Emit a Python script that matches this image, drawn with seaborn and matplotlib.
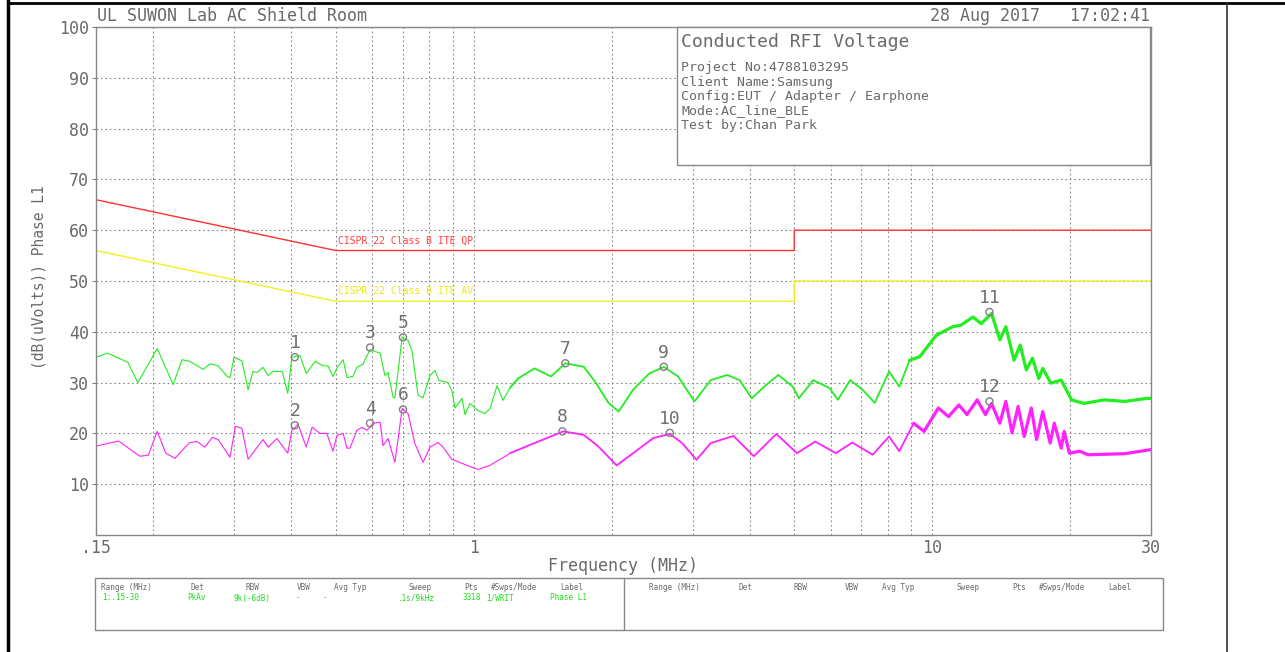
import numpy as np
import pandas as pd
import matplotlib
matplotlib.use("Agg")
import matplotlib.pyplot as plt
from matplotlib.lines import Line2D
from matplotlib.patches import Rectangle
from matplotlib.ticker import FixedLocator, NullFormatter
import seaborn as sns

# ---------------- data ----------------
qp_freq = [0.150, 0.159, 0.176, 0.185, 0.204, 0.221, 0.231, 0.240, 0.257, 0.266, 0.277, 0.290,
           0.294, 0.300, 0.312, 0.322, 0.330, 0.337, 0.347, 0.356, 0.365, 0.382, 0.393, 0.401,
           0.418, 0.431, 0.451, 0.469, 0.481, 0.493, 0.506, 0.519, 0.529, 0.545, 0.556, 0.573,
           0.594, 0.615, 0.625, 0.640, 0.650, 0.667, 0.673, 0.698, 0.719, 0.733, 0.756, 0.775,
           0.803, 0.823, 0.840, 0.879, 0.896, 0.910, 0.943, 0.957, 0.981, 1.021, 1.058, 1.085,
           1.124, 1.158, 1.200, 1.249,
           1.357, 1.474, 1.584, 1.738, 1.848, 1.967, 2.070, 2.226, 2.415, 2.597, 2.790, 3.029,
           3.289, 3.571, 3.798, 4.041, 4.296, 4.617, 4.963, 5.118, 5.500, 5.975, 6.226, 6.622,
           7.044, 7.492, 8.052, 8.474, 8.925, 9.393, 10.20, 11.08, 11.54, 12.27, 12.79, 13.47,
           14.04, 14.47, 15.08, 15.55, 16.04, 16.54, 17.07, 17.42, 18.15, 19.11, 20.13, 21.41,
           23.73, 26.30, 29.44, 30.0]
qp_level = [35.0, 35.8, 34.0, 30.0, 36.7, 29.6, 34.5, 34.2, 32.6, 33.7, 33.3, 31.2,
            31.0, 35.0, 34.3, 28.6, 32.2, 32.0, 33.0, 31.4, 32.2, 32.2, 27.9, 35.0,
            35.3, 31.8, 34.2, 33.3, 33.3, 31.2, 33.3, 34.5, 31.0, 31.2, 33.0, 33.6,
            36.5, 36.0, 35.8, 31.4, 32.0, 27.1, 27.0, 39.0, 38.3, 36.3, 27.5, 27.0,
            31.4, 32.4, 30.4, 30.0, 28.4, 25.0, 26.9, 23.7, 25.9, 24.5, 23.9, 24.9,
            29.4, 26.5, 29.0, 30.8,
            32.8, 31.2, 33.8, 33.1, 29.9, 26.0, 24.3, 28.6, 31.8, 33.1, 31.2, 26.3,
            30.5, 31.5, 30.5, 26.9, 29.2, 31.5, 29.2, 26.9, 30.5, 28.9, 26.6, 30.5,
            28.6, 26.0, 32.2, 29.2, 34.4, 35.1, 39.3, 41.0, 41.3, 42.9, 41.6, 43.6,
            38.4, 41.0, 34.4, 37.4, 32.5, 34.8, 30.8, 32.8, 29.9, 30.5, 26.6, 25.9,
            26.6, 26.3, 26.9, 26.9]

av_freq = [0.150, 0.168, 0.187, 0.195, 0.204, 0.213, 0.223, 0.240, 0.249, 0.259, 0.269, 0.277,
           0.294, 0.302, 0.312, 0.322, 0.347, 0.356, 0.372, 0.393, 0.401, 0.414, 0.431, 0.444,
           0.462, 0.478, 0.493, 0.503, 0.519, 0.529, 0.537, 0.556, 0.570, 0.585, 0.603, 0.625,
           0.634, 0.650, 0.673, 0.698, 0.719, 0.744, 0.775, 0.803, 0.836, 0.857, 0.896, 0.967,
           1.021, 1.085, 1.182,
           1.200, 1.357, 1.474, 1.568, 1.738, 1.866, 2.049, 2.226, 2.465, 2.677, 2.847, 3.060,
           3.289, 3.684, 4.083, 4.571, 5.068, 5.557, 6.162, 6.692, 7.415, 8.052, 8.474, 9.111,
           9.597, 10.31, 10.85, 11.43, 11.91, 12.53, 13.06, 13.47, 14.04, 14.47, 14.93, 15.39,
           15.87, 16.44, 16.89, 17.42, 18.08, 18.46, 19.11, 19.40, 19.91, 20.97, 21.85, 26.30,
           29.44, 30.0]
av_level = [17.5, 18.5, 15.5, 15.7, 20.4, 16.1, 15.1, 18.2, 18.4, 17.3, 19.2, 18.8,
            15.3, 21.4, 21.0, 14.9, 18.8, 17.3, 19.0, 16.1, 20.6, 21.8, 17.3, 21.2,
            20.0, 20.0, 16.5, 19.6, 20.0, 17.1, 17.1, 20.6, 21.2, 20.6, 22.0, 22.2,
            17.6, 19.0, 14.3, 24.9, 23.9, 18.0, 14.3, 17.3, 18.2, 17.3, 14.9, 13.7,
            12.9, 13.7, 15.7,
            16.1, 18.1, 19.4, 20.4, 19.7, 17.5, 13.7, 16.1, 19.1, 19.9, 18.1, 14.8,
            18.1, 19.5, 15.5, 19.9, 16.1, 18.4, 16.1, 18.2, 15.8, 19.4, 16.5, 22.0,
            20.4, 25.0, 23.3, 25.6, 23.7, 26.6, 23.7, 25.9, 22.0, 26.3, 20.1, 25.3,
            19.4, 25.0, 18.8, 24.3, 18.1, 22.0, 17.1, 20.4, 16.1, 16.5, 15.8, 16.0,
            16.7, 16.8]

qp_limit_freq = [0.15, 0.5, 5.0, 5.0, 30.0]
qp_limit_level = [66, 56, 56, 60, 60]
av_limit_freq = [0.15, 0.5, 5.0, 5.0, 30.0]
av_limit_level = [56, 46, 46, 50, 50]

marker_ids = ["1", "2", "3", "4", "5", "6", "7", "8", "9", "10", "11", "12"]
marker_freq = [0.407, 0.407, 0.594, 0.594, 0.701, 0.701, 1.584, 1.561, 2.597, 2.677, 13.33, 13.33]
marker_level = [35.0, 21.6, 36.9, 22.0, 38.9, 24.7, 33.8, 20.4, 33.1, 20.1, 43.9, 26.3]

y_ticks = [10, 20, 30, 40, 50, 60, 70, 80, 90, 100]
x_ticks = [0.15, 1, 10, 30]
x_tick_labels = [".15", "1", "10", "30"]
x_minor = [0.2, 0.3, 0.4, 0.5, 0.6, 0.7, 0.8, 0.9, 2, 3, 4, 5, 6, 7, 8, 9, 20]

info_title = "Conducted RFI Voltage"
info_lines = ["Project No:4788103295", "Client Name:Samsung",
              "Config:EUT / Adapter / Earphone", "Mode:AC_line_BLE", "Test by:Chan Park"]
table_headers = ["Range (MHz)", "Det", "RBW", "VBW", "Avg Typ", "Sweep", "Pts", "#Swps/Mode", "Label"]
table_values = ["1:.15-30", "PkAv", "9k(-6dB)", "-", "-", ".1s/9kHz", "3318", "1/WRIT", "Phase L1"]

# ---------------- style ----------------
sns.set_style("white")
plt.rcParams["font.family"] = ["DejaVu Sans Mono"]
TXT = "#6a6a6a"
W, H = 1285, 652
fig = plt.figure(figsize=(W / 100, H / 100), dpi=100)

def fx(px):
    return px / W

def fy(py):
    return 1 - py / H

ax = fig.add_axes([fx(96), fy(535), fx(1151) - fx(96), fy(27) - fy(535)])

qp = pd.DataFrame({"freq": qp_freq, "level": qp_level})
av = pd.DataFrame({"freq": av_freq, "level": av_level})
qpl = pd.DataFrame({"freq": qp_limit_freq, "level": qp_limit_level})
avl = pd.DataFrame({"freq": av_limit_freq, "level": av_limit_level})

# limits
sns.lineplot(data=qpl, x="freq", y="level", sort=False, estimator=None, color="#ff3030", lw=1.0, ax=ax)
sns.lineplot(data=avl, x="freq", y="level", sort=False, estimator=None, color="#f0f020", lw=1.0, ax=ax)

# traces (thin at low frequency, dense/thick noise band at high frequency)
segs = [(0.0, 1.25, 0.8), (1.2, 9.5, 1.3), (8.9, 31.0, 2.3)]
for lo, hi, lw in segs:
    d = qp[(qp.freq >= lo) & (qp.freq <= hi)]
    sns.lineplot(data=d, x="freq", y="level", sort=False, estimator=None, color="#22ee22", lw=lw, ax=ax)
    d = av[(av.freq >= lo) & (av.freq <= hi)]
    sns.lineplot(data=d, x="freq", y="level", sort=False, estimator=None, color="#ff22ff", lw=lw, ax=ax)

# markers
mk = pd.DataFrame({"freq": marker_freq, "level": marker_level, "id": marker_ids})
sns.scatterplot(data=mk, x="freq", y="level", marker="o", s=26, facecolors="none",
                edgecolor="#808080", linewidth=1.0, ax=ax, zorder=5)
for f, l, t in zip(marker_freq, marker_level, marker_ids):
    ax.text(f, l + 1.0, t, ha="center", va="bottom", fontsize=13, color="#707070", zorder=6)

ax.set_xscale("log")
ax.set_xlim(0.15, 30)
ax.set_ylim(0, 100)
ax.set_xticks(x_ticks)
ax.set_xticklabels(x_tick_labels)
ax.xaxis.set_minor_locator(FixedLocator(x_minor))
ax.xaxis.set_minor_formatter(NullFormatter())
ax.set_yticks(y_ticks)
ax.tick_params(axis="x", which="both", length=0, pad=3, labelsize=12, labelcolor=TXT)
ax.tick_params(axis="y", which="major", length=3, width=0.8, color="#808080", pad=2,
               labelsize=12, labelcolor=TXT, left=True)
ax.grid(True, which="both", axis="x", color="#888888", lw=0.8, ls=(0, (1.5, 2.5)))
ax.grid(True, which="major", axis="y", color="#888888", lw=0.8, ls=(0, (1.5, 2.5)))
for s in ax.spines.values():
    s.set_color("#888888")
    s.set_linewidth(1.0)

ax.set_xlabel("Frequency (MHz)", fontsize=12, color=TXT)
ax.xaxis.set_label_coords(0.5, -0.044)
ax.set_ylabel("(dB(uVolts)) Phase L1", fontsize=10.5, color=TXT)
ax.yaxis.set_label_coords(-0.047, 0.508)

# limit labels
ax.text(0.505, 57.0, "CISPR 22 Class B ITE QP", fontsize=7, color="#ff4040", ha="left", va="bottom")
ax.text(0.505, 47.0, "CISPR 22 Class B ITE AV", fontsize=7, color="#e8e820", ha="left", va="bottom")

# header texts
fig.text(fx(97), fy(16), "UL SUWON Lab AC Shield Room", fontsize=12, color=TXT, ha="left", va="center")
fig.text(fx(1150), fy(16), "28 Aug 2017   17:02:41", fontsize=12, color=TXT, ha="right", va="center")

# info box
fig.add_artist(Rectangle((fx(677), fy(165)), fx(1150) - fx(677), fy(27) - fy(165),
                         transform=fig.transFigure, facecolor="white", edgecolor="#888888", lw=1.0, zorder=3))
fig.text(fx(681), fy(42), info_title, fontsize=13, color=TXT, ha="left", va="center", zorder=4)
for i, line in enumerate(info_lines):
    fig.text(fx(681), fy(68 + i * 14.3), line, fontsize=9.5, color=TXT, ha="left", va="center", zorder=4)

# bottom table
fig.add_artist(Rectangle((fx(95), fy(630)), fx(1163) - fx(95), fy(578) - fy(630),
                         transform=fig.transFigure, facecolor="none", edgecolor="#888888", lw=1.0))
fig.add_artist(Line2D([fx(624), fx(624)], [fy(578), fy(630)], transform=fig.transFigure, color="#888888", lw=1.0))
left_cols = [126, 197, 252, 304, 350, 420, 471, 514, 572]
value_cols = [121, 197, 252, 298, 325, 416, 472, 500, 568]
for c, h in zip(left_cols, table_headers):
    fig.text(fx(c), fy(587), h, fontsize=5.5, color=TXT, ha="center", va="center")
for c, v in zip(value_cols, table_values):
    fig.text(fx(c), fy(598), v, fontsize=5.5, color="#22dd22", ha="center", va="center")
for c, h in zip(left_cols, table_headers):
    fig.text(fx(c + 548), fy(587), h, fontsize=5.5, color=TXT, ha="center", va="center")

# page frame
fig.add_artist(Line2D([fx(8), fx(8)], [0, 1], transform=fig.transFigure, color="black", lw=2.5))
fig.add_artist(Line2D([fx(8), 1], [fy(3), fy(3)], transform=fig.transFigure, color="black", lw=2.0))
fig.add_artist(Line2D([fx(1227), fx(1227)], [0, fy(3)], transform=fig.transFigure, color="#333333", lw=1.2))

fig.savefig("out.png", dpi=100)
